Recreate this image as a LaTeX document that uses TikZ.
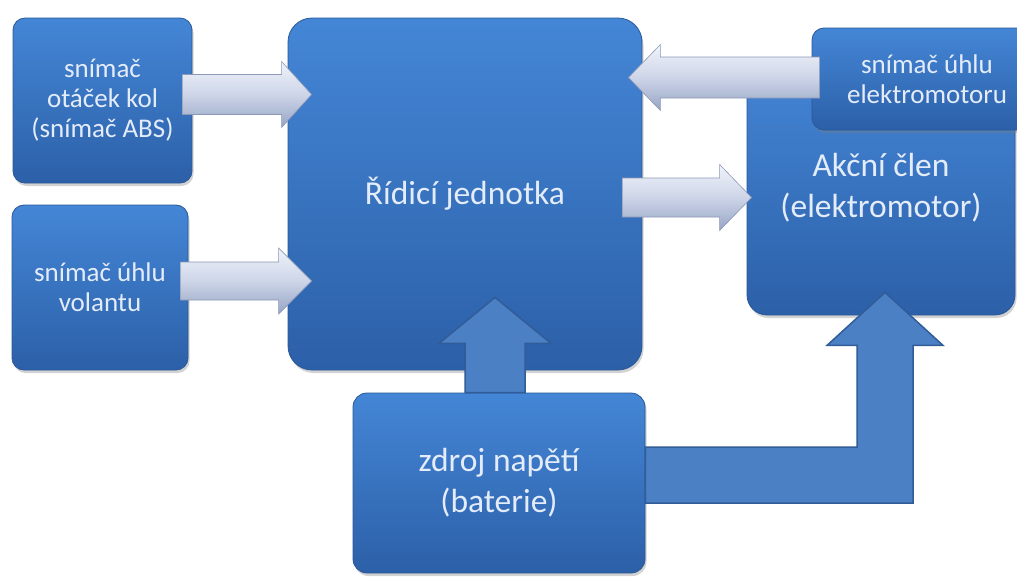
\documentclass[tikz,border=0pt]{standalone}
\usepackage{fontspec}
\setmainfont{Carlito}
\usetikzlibrary{calc,shadows}
\definecolor{boxtop}{RGB}{68,134,214}
\definecolor{boxbot}{RGB}{44,96,168}
\definecolor{boxedge}{RGB}{42,88,152}
\definecolor{txt}{RGB}{228,236,250}
\definecolor{bigfill}{RGB}{76,128,196}
\definecolor{bigedge}{RGB}{48,92,152}
\definecolor{lt1}{RGB}{240,243,250}
\definecolor{lt2}{RGB}{205,213,232}
\definecolor{lt3}{RGB}{150,164,196}
\definecolor{ltedge}{RGB}{140,152,182}
\tikzset{
 blockbox/.style={rectangle, top color=boxtop, bottom color=boxbot, draw=boxedge, line width=0.8pt,
   text=txt, align=center, inner sep=0pt,
   drop shadow={shadow xshift=1.5pt, shadow yshift=-3pt, opacity=0.35}},
 smalltext/.style={font=\fontsize{27}{30}\selectfont},
 bigtext/.style={font=\fontsize{33.5}{41}\selectfont},
 lightarrow/.style={top color=lt1, bottom color=lt3, middle color=lt2, draw=ltedge, line width=0.6pt, line join=miter},
 bigarrow/.style={fill=bigfill, draw=bigedge, line width=1.5pt, line join=miter},
}
\newcommand\blockarrow[6]{%
  \coordinate (hb) at ($(#3)!#6!(#2)$);
  \draw[#1] ($(#2)!#4!90:(#3)$) -- ($(hb)!#4!90:(#3)$) -- ($(hb)!#5!90:(#3)$) -- (#3)
    -- ($(hb)!#5!-90:(#3)$) -- ($(hb)!#4!-90:(#3)$) -- ($(#2)!#4!-90:(#3)$) -- cycle;}
\begin{document}
\begin{tikzpicture}[x=1pt,y=-1pt]
\useasboundingbox (0,0) rectangle (1017,576);
\fill[white] (0,0) rectangle (1017,576);
\clip (0,0) rectangle (1017,576);
% boxes
\node[blockbox, smalltext, rounded corners=12pt, minimum width=179pt, minimum height=165pt] (b1) at (102.5,100.5) {snímač\\otáček kol\\(snímač ABS)};
\node[blockbox, smalltext, rounded corners=12pt, minimum width=176pt, minimum height=165pt] (b2) at (100,287.5) {snímač úhlu\\volantu};
\node[blockbox, bigtext, rounded corners=24pt, minimum width=354pt, minimum height=352pt] (ecu) at (465,194) {Řídicí jednotka};
\node[blockbox, bigtext, rounded corners=20pt, minimum width=268pt, minimum height=255pt] (act) at (881,187.5) {Akční člen\\(elektromotor)};
\node[blockbox, smalltext, rounded corners=12pt, minimum width=230pt, minimum height=102pt] (sens) at (927,79) {snímač úhlu\\elektromotoru};
\node[blockbox, bigtext, rounded corners=14pt, minimum width=292pt, minimum height=180pt] (bat) at (499,483) {zdroj napětí\\(baterie)};
% light arrows
\coordinate (a1s) at ($(b1.east)+(-10,-6)$);
\coordinate (a1t) at ($(a1s -| ecu.west)+(24,0)$);
\blockarrow{lightarrow}{a1s}{a1t}{20pt}{33pt}{30pt}
\coordinate (a2s) at ($(b2.east)+(-8,-6.5)$);
\coordinate (a2t) at ($(a2s -| ecu.west)+(24,0)$);
\blockarrow{lightarrow}{a2s}{a2t}{19pt}{33pt}{33pt}
\coordinate (a3s) at ($(ecu.east)+(-20,3.5)$);
\coordinate (a3t) at ($(a3s -| act.west)+(5,0)$);
\blockarrow{lightarrow}{a3s}{a3t}{19.5pt}{33pt}{32pt}
\coordinate (a4s) at ($(sens.west)+(8,-1.5)$);
\coordinate (a4t) at ($(a4s -| ecu.east)+(-14,0)$);
\blockarrow{lightarrow}{a4s}{a4t}{20.5pt}{33pt}{32pt}
% big arrows
\coordinate (u1s) at ($(bat.north)+(-4,0)$);
\coordinate (u1t) at ($(u1s |- ecu.south)+(0,-73)$);
\blockarrow{bigarrow}{u1s}{u1t}{30pt}{56pt}{46pt}
\coordinate (ls) at ($(bat.east)+(0,-8)$);
\coordinate (lx) at ($(act.south)+(4,0)$);
\coordinate (lc) at (lx |- ls);
\coordinate (lt) at ($(lx)+(0,-23)$);
\coordinate (lh) at ($(lt)+(0,53)$);
\draw[bigarrow] ($(ls)+(0,-28)$) -- ($(lc)+(-28,-28)$) -- ($(lh)+(-28,0)$) -- ($(lh)+(-58,0)$) -- (lt)
  -- ($(lh)+(58,0)$) -- ($(lh)+(28,0)$) -- ($(lc)+(28,28)$) -- ($(ls)+(0,28)$) -- cycle;
\end{tikzpicture}
\end{document}
